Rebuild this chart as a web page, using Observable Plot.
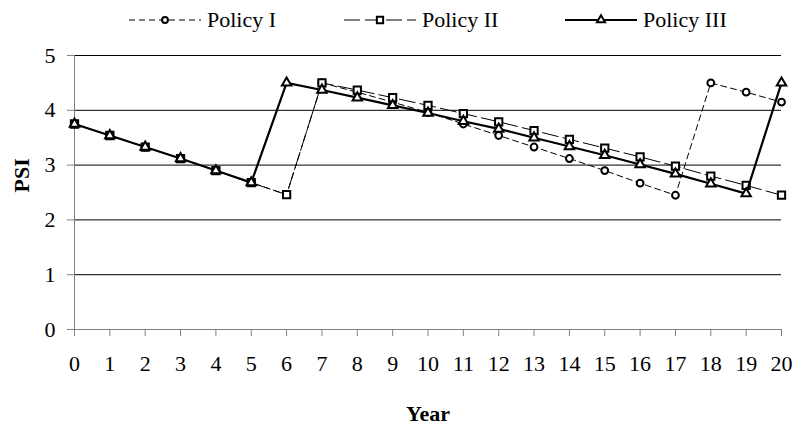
<!DOCTYPE html>
<html><head><meta charset="utf-8">
<script src="https://cdn.jsdelivr.net/npm/d3@7"></script>
<script src="https://cdn.jsdelivr.net/npm/@observablehq/plot@0.6"></script>
<style>
body{margin:0;background:#fff;font-family:"Liberation Serif","Times New Roman",serif;}
#legend{position:relative;width:793px;height:40px;}
.item{position:absolute;top:0;height:40px;display:flex;align-items:center;font-size:22px;color:#000;white-space:nowrap;}
.item svg{margin-right:6px;display:block}
</style></head><body>
<div id="legend"></div>
<div id="chart"></div>
<script>
const years = [0,1,2,3,4,5,6,7,8,9,10,11,12,13,14,15,16,17,18,19,20];
const policyI   = [3.75,3.54,3.33,3.12,2.90,2.68,2.46,4.50,4.33,4.15,3.96,3.75,3.54,3.33,3.12,2.90,2.67,2.45,4.50,4.33,4.15];
const policyII  = [3.75,3.54,3.33,3.12,2.90,2.68,2.46,4.50,4.37,4.23,4.09,3.94,3.79,3.63,3.47,3.31,3.15,2.98,2.80,2.63,2.45];
const policyIII = [3.75,3.54,3.33,3.12,2.90,2.68,4.50,4.37,4.23,4.09,3.95,3.80,3.66,3.50,3.34,3.18,3.01,2.84,2.66,2.48,4.50];
const seriesNames = ["Policy I","Policy II","Policy III"];
const yTicks = [0,1,2,3,4,5];
const xTicks = years;

const seriesValues = [policyI, policyII, policyIII];
const seriesStyle = [
  {symbol:"circle", dash:"6,4", width:1, r:3.4, legendLeft:129},
  {symbol:"square", dash:"16,5", width:1, r:4.1, legendLeft:344},
  {symbol:"triangle", dash:null, width:2.2, r:3.5, legendLeft:565}
];
const symMap = {circle:d3.symbolCircle, square:d3.symbolSquare, triangle:d3.symbolTriangle};

// legend
const legend = d3.select("#legend");
seriesNames.forEach((name,i)=>{
  const st = seriesStyle[i];
  const item = legend.append("div").attr("class","item").style("left", st.legendLeft+"px");
  const svg = item.append("svg").attr("width",72).attr("height",20);
  svg.append("line").attr("x1",0).attr("x2",72).attr("y1",10).attr("y2",10)
    .attr("stroke","#000").attr("stroke-width",st.width)
    .attr("stroke-dasharray",st.dash);
  svg.append("path").attr("transform","translate(36,10)")
    .attr("d", d3.symbol(symMap[st.symbol], Math.PI*st.r*st.r*0.75)())
    .attr("fill","#fff").attr("stroke","#000").attr("stroke-width",2);
  item.append("span").text(name);
});

const table = [];
seriesNames.forEach((name,i)=>{
  years.forEach((yr,j)=>table.push({series:name, year:yr, psi:seriesValues[i][j]}));
});

const marks = [
  Plot.ruleY(yTicks.filter(d=>d>0), {stroke:"#000", strokeWidth:1}),
  Plot.ruleY([0], {stroke:"#808080"}),
  Plot.ruleX([0], {stroke:"#808080"}),
  Plot.axisY({ticks:yTicks, tickSize:7, tickPadding:12, fontSize:22, label:null, stroke:"#808080", tickFormat:d=>String(d)}),
  Plot.axisX({ticks:xTicks, tickSize:7, tickPadding:19, fontSize:22, label:null, stroke:"#808080", tickFormat:d=>String(d)}),
  Plot.text(["Year"], {frameAnchor:"bottom", dy:91, fontSize:22, fontWeight:"bold", fill:"#000"}),
  Plot.text(["PSI"], {frameAnchor:"left", dx:-53, rotate:-90, fontSize:22, fontWeight:"bold", fill:"#000"})
];
seriesNames.forEach((name,i)=>{
  const st = seriesStyle[i];
  const data = table.filter(d=>d.series===name);
  marks.push(Plot.line(data, {x:"year", y:"psi", stroke:"#000", strokeWidth:st.width, strokeDasharray:st.dash}));
  marks.push(Plot.dot(data, {x:"year", y:"psi", symbol:st.symbol, r:st.r, fill:"#fff", stroke:"#000", strokeWidth:2}));
});

const chart = Plot.plot({
  width:793, height:385,
  marginLeft:74, marginRight:12, marginTop:15, marginBottom:96,
  x:{domain:[0,20]},
  y:{domain:[0,5]},
  style:{fontFamily:"'Liberation Serif','Times New Roman',serif", fontSize:"22px", color:"#000", background:"#fff"},
  marks
});
document.getElementById("chart").appendChild(chart);
</script>
</body></html>
